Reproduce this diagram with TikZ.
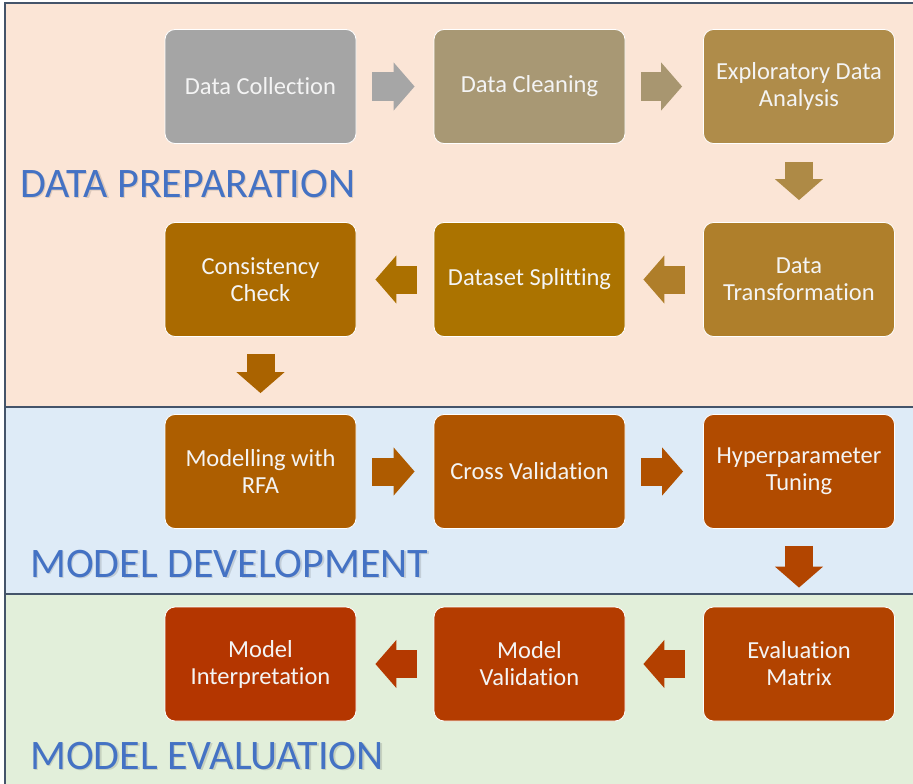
\documentclass[tikz,border=0pt]{standalone}
\usepackage{fontspec}
\setmainfont{Carlito}[Ligatures=CommonOff]
\usetikzlibrary{arrows.meta}
\definecolor{bandA}{HTML}{FBE5D6}
\definecolor{bandB}{HTML}{DEEBF7}
\definecolor{bandC}{HTML}{E2EFDA}
\definecolor{framec}{HTML}{44546A}
\definecolor{titlec}{HTML}{4472C4}
\definecolor{boxtext}{HTML}{F4F4F4}
\definecolor{c1}{HTML}{A5A5A5}
\definecolor{c2}{HTML}{A89874}
\definecolor{c3}{HTML}{AF8C4A}
\definecolor{c4}{HTML}{AF7F2B}
\definecolor{c5}{HTML}{AB7300}
\definecolor{c6}{HTML}{AA6A00}
\definecolor{c7}{HTML}{AD5E00}
\definecolor{c8}{HTML}{AF5500}
\definecolor{c9}{HTML}{B14B00}
\definecolor{c10}{HTML}{B24300}
\definecolor{c11}{HTML}{B43C00}
\definecolor{c12}{HTML}{B43600}
\definecolor{a1}{HTML}{A6A6A6}
\definecolor{a2}{HTML}{A89670}
\definecolor{a3}{HTML}{AE8A46}
\definecolor{a4}{HTML}{AF7E2A}
\definecolor{a5}{HTML}{AB7000}
\definecolor{a6}{HTML}{AA6300}
\definecolor{a7}{HTML}{AE5B00}
\definecolor{a8}{HTML}{B05100}
\definecolor{a9}{HTML}{B24500}
\definecolor{a10}{HTML}{B34000}
\definecolor{a11}{HTML}{B43900}
\tikzset{
  stepbox/.style={draw=white, line width=0.8pt, rounded corners=10pt,
    minimum width=191pt, minimum height=114pt, inner sep=2pt,
    align=center, text=boxtext, font=\fontsize{24.5}{27}\selectfont},
  barrow/.style={line width=28pt, -{Triangle[width=47pt 0 0, length=21pt 0 0]}},
  frameline/.style={draw=framec, line width=1.6pt},
  phasetitle/.style={anchor=base west, text=titlec, font=\fontsize{42}{48}\selectfont, inner sep=0pt},
  phaseshadow/.style={anchor=base west, text=black, opacity=0.12, font=\fontsize{42}{48}\selectfont, inner sep=0pt}
}
\begin{document}
\begin{tikzpicture}[x=1pt,y=1pt]
\useasboundingbox (0,0) rectangle (913,-784);
\fill[bandA] (5,-3) rectangle (913,-407);
\fill[bandB] (5,-407) rectangle (913,-594);
\fill[bandC] (5,-594) rectangle (913,-784);
\draw[frameline] (913,-3) -- (5,-3) -- (5,-784);
\draw[frameline] (5,-407) -- (913,-407);
\draw[frameline] (5,-594) -- (913,-594);

% titles
\node[phaseshadow] (t1s) at (21.5,-198.5) {DATA PREPARATION};
\node[phasetitle] (t1) at (20,-197) {DATA PREPARATION};
\node[phaseshadow] (t2s) at (31.5,-578.5) {MODEL DEVELOPMENT};
\node[phasetitle] (t2) at (30,-577) {MODEL DEVELOPMENT};
\node[phaseshadow] (t3s) at (31.5,-770.5) {MODEL EVALUATION};
\node[phasetitle] (t3) at (30,-769) {MODEL EVALUATION};

% boxes
\node[stepbox, fill=c1] (dc) at (260.5,-86.5) {Data Collection};
\node[stepbox, fill=c2] (dcl) at (529.5,-86.5) {Data Cleaning};
\node[stepbox, fill=c3] (eda) at (799,-86.5) {Exploratory Data\\Analysis};
\node[stepbox, fill=c4] (dt) at (799,-279.5) {Data\\Transformation};
\node[stepbox, fill=c5] (ds) at (529.5,-279.5) {Dataset Splitting};
\node[stepbox, fill=c6] (cc) at (260.5,-279.5) {Consistency\\Check};
\node[stepbox, fill=c7] (mr) at (260.5,-471.5) {Modelling with\\RFA};
\node[stepbox, fill=c8] (cv) at (529.5,-471.5) {Cross Validation};
\node[stepbox, fill=c9] (ht) at (799,-471.5) {Hyperparameter\\Tuning};
\node[stepbox, fill=c10] (em) at (799,-664) {Evaluation\\Matrix};
\node[stepbox, fill=c11] (mv) at (529.5,-664) {Model\\Validation};
\node[stepbox, fill=c12] (mi) at (260.5,-664) {Model\\Interpretation};

% block arrows
\draw[barrow, a1, shorten <=16pt, shorten >=19pt] (dc.east) -- (dcl.west);
\draw[barrow, a2, shorten <=16pt, shorten >=21pt] (dcl.east) -- (eda.west);
\draw[barrow, a3, shorten <=18pt, shorten >=22pt] (eda.south) -- (dt.north);
\draw[barrow, a4, shorten <=18pt, shorten >=18pt] (dt.west) -- (ds.east);
\draw[barrow, a5, shorten <=17pt, shorten >=19pt] (ds.west) -- (cc.east);
\draw[barrow, a6, shorten <=17pt, shorten >=21pt] (cc.south) -- (mr.north);
\draw[barrow, a7, shorten <=16pt, shorten >=19pt] (mr.east) -- (cv.west);
\draw[barrow, a8, shorten <=16pt, shorten >=20pt] (cv.east) -- (ht.west);
\draw[barrow, a9, shorten <=17pt, shorten >=19pt] (ht.south) -- (em.north);
\draw[barrow, a10, shorten <=18pt, shorten >=18pt] (em.west) -- (mv.east);
\draw[barrow, a11, shorten <=17pt, shorten >=19pt] (mv.west) -- (mi.east);
\end{tikzpicture}
\end{document}
